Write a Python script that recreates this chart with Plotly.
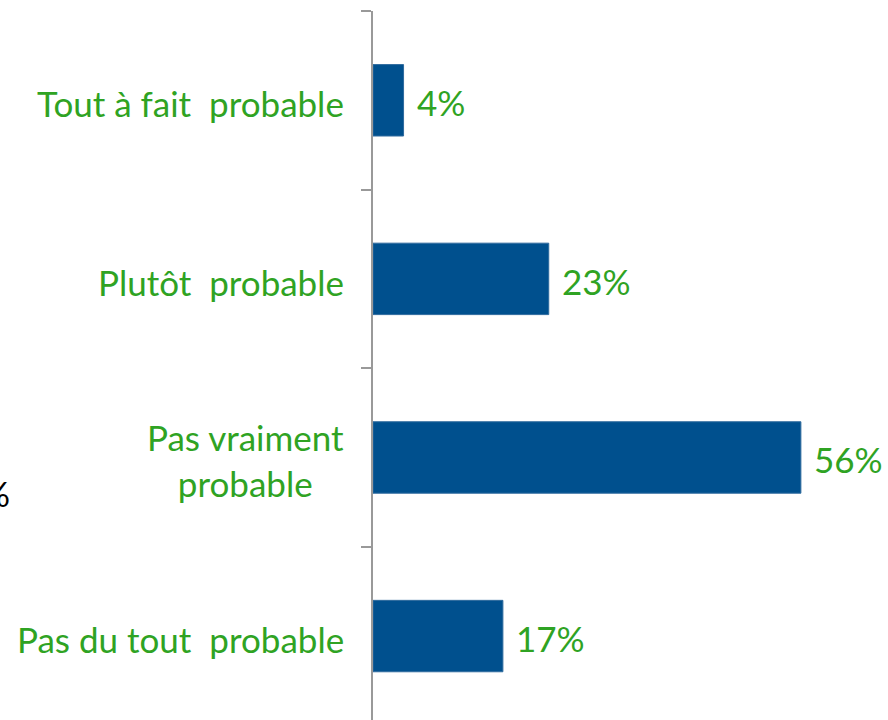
import plotly.graph_objects as go

categories = ["Tout à fait\u00a0 probable", "Plutôt\u00a0 probable", "Pas vraiment<br>probable", "Pas du tout\u00a0 probable"]
values = [4, 23, 56, 17]
value_labels = ["4%", "23%", "56%", "17%"]

GREEN = "#2FA323"
BLUE = "#00508E"
FONT = "Lato"
FS = 35

fig = go.Figure()
fig.add_trace(go.Bar(
    x=values, y=categories, orientation="h",
    marker=dict(color=BLUE, line=dict(color="#2F6B9E", width=1)),
    width=0.4, hoverinfo="skip",
))

annotations = []
for c, v, t in zip(categories, values, value_labels):
    annotations.append(dict(x=v, y=c, xref="x", yref="y", text=t, showarrow=False,
                            xanchor="left", yanchor="middle", xshift=11, yshift=-2,
                            font=dict(family=FONT, size=FS, color=GREEN)))
    annotations.append(dict(x=0, y=c, xref="x", yref="y", text=c, showarrow=False,
                            xanchor="right", yanchor="middle", align="center", xshift=-27,
                            yshift=-3,
                            font=dict(family=FONT, size=FS, color=GREEN)))
# clipped fragment at left edge
annotations.append(dict(x=-0.701, y=2, xref="paper", yref="y", text="%", showarrow=False,
                        xanchor="right", yanchor="middle", yshift=-36,
                        font=dict(family=FONT, size=FS, color="#000000")))

fig.update_layout(
    width=888, height=720,
    margin=dict(l=373, r=0, t=11, b=0),
    paper_bgcolor="white", plot_bgcolor="white",
    showlegend=False,
    annotations=annotations,
    xaxis=dict(range=[0, 67.4], visible=False, showgrid=False, zeroline=False),
    yaxis=dict(type="category", categoryorder="array", categoryarray=categories,
               range=[3.47, -0.5], showgrid=False, zeroline=False,
               showline=True, linecolor="#999999", linewidth=2,
               ticks="outside", tickson="boundaries", ticklen=10, tickcolor="#999999",
               tickwidth=2, showticklabels=False),
)

fig.write_html("out.html", config={"displayModeBar": False},
               post_script="document.body.style.margin='0';document.body.style.overflow='hidden';")
